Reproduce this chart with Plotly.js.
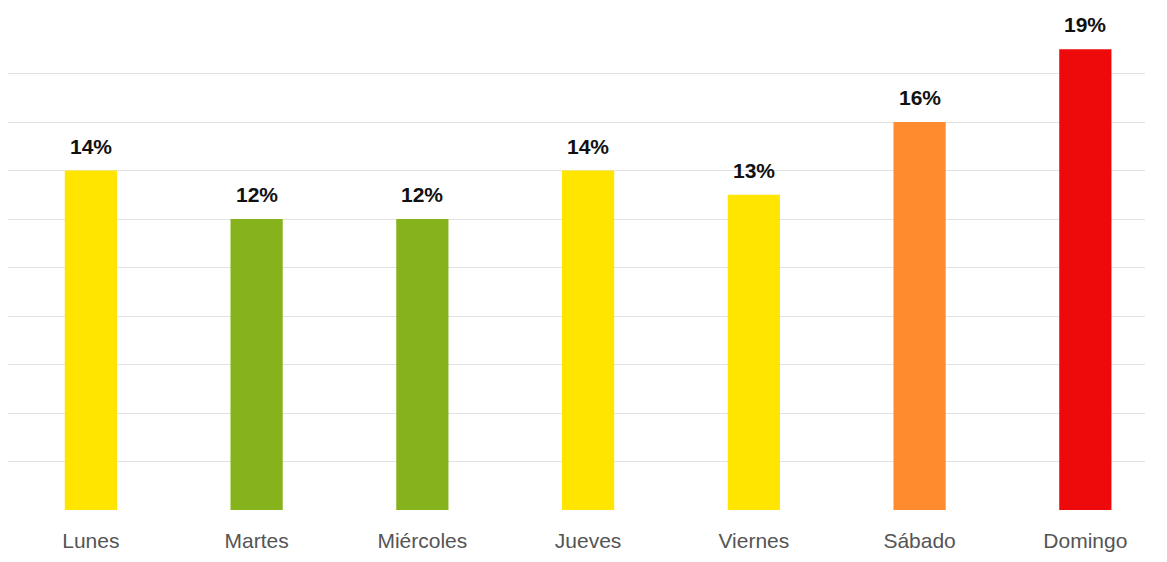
<!DOCTYPE html>
<html>
<head>
<meta charset="utf-8">
<script src="https://cdn.plot.ly/plotly-3.0.1.min.js"></script>
<style>html,body{margin:0;padding:0;background:#fff;}#chart{width:1167px;height:562px;}</style>
</head>
<body>
<div id="chart"></div>
<script>
var days = ["Lunes", "Martes", "Miércoles", "Jueves", "Viernes", "Sábado", "Domingo"];
var shares = [14, 12, 12, 14, 13, 16, 19];
var barColors = ["#FFE500", "#86B21B", "#86B21B", "#FFE500", "#FFE500", "#FF8B2E", "#EE0A0A"];
var gridValues = [2, 4, 6, 8, 10, 12, 14, 16, 18];

var trace = {
  type: "bar",
  x: days,
  y: shares,
  marker: {color: barColors},
  width: 0.315,
  hoverinfo: "none"
};

var annotations = days.map(function (d, i) {
  return {
    x: d, y: shares[i], xref: "x", yref: "y",
    text: "<b>" + shares[i] + "%</b>",
    showarrow: false, yanchor: "bottom", yshift: 11,
    font: {family: "Liberation Sans, Arial, sans-serif", size: 21, color: "#111"}
  };
});

var layout = {
  width: 1167, height: 562,
  margin: {l: 8, r: 22, t: 25, b: 52},
  paper_bgcolor: "#fff", plot_bgcolor: "#fff",
  showlegend: false,
  xaxis: {
    range: [-0.5, 6.36],
    showgrid: false, zeroline: false, showline: false, ticks: "",
    tickfont: {family: "Liberation Sans, Arial, sans-serif", size: 21, color: "#555"},
    ticklabelstandoff: 16
  },
  yaxis: {
    range: [0, 20],
    tickvals: gridValues,
    showticklabels: false,
    showgrid: true, gridcolor: "#e2e2e2", gridwidth: 1,
    zeroline: false, showline: false, ticks: ""
  },
  annotations: annotations
};

Plotly.newPlot("chart", [trace], layout, {displayModeBar: false, staticPlot: true});
</script>
</body>
</html>
